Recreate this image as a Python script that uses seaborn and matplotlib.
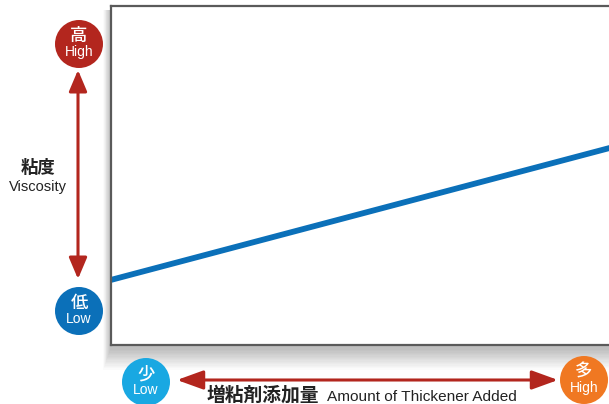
import matplotlib
matplotlib.use("Agg")
import matplotlib.pyplot as plt
from matplotlib.patches import Circle, Rectangle, FancyArrowPatch
import seaborn as sns
import pandas as pd

# ---- data ----
amount = [0, 10]            # thickener amount (relative)
viscosity = [19.2, 58.3]    # viscosity (relative)
y_title_ja = "粘度"
y_title_en = "Viscosity"
x_title_ja = "増粘剤添加量"
x_title_en = "Amount of Thickener Added"
high_ja, high_en = "高", "High"
low_ja, low_en = "低", "Low"
few_ja, few_en = "少", "Low"
many_ja, many_en = "多", "High"

sns.set_theme(style="white")
plt.rcParams['font.family'] = ['Noto Sans CJK JP', 'DejaVu Sans']
EN = ['Liberation Sans', 'DejaVu Sans']
JA = ['Noto Sans CJK JP', 'DejaVu Sans']

W, H = 609, 404
fig = plt.figure(figsize=(W / 100, H / 100), dpi=100)
fig.patch.set_facecolor("white")

# overlay in pixel coordinates
ov = fig.add_axes([0, 0, 1, 1], zorder=0)
ov.set_xlim(0, W)
ov.set_ylim(H, 0)
ov.axis("off")

# box geometry (pixels)
bx0, by0, bx1, by1 = 111, 6, 612, 345

# soft shadow (mostly below the box)
for i in range(16):
    ov.add_patch(Rectangle((bx0 - 1 - i * 0.45, by0 + 4), (bx1 - bx0) + 20,
                           (by1 - by0) + 1 + i * 1.3,
                           facecolor="black", edgecolor="none", alpha=0.015, zorder=1))

# main axes
ax = fig.add_axes([bx0 / W, 1 - by1 / H, (bx1 - bx0) / W, (by1 - by0) / H], zorder=2)
ax.set_facecolor("white")
df = pd.DataFrame({"amount": amount, "viscosity": viscosity})
sns.lineplot(data=df, x="amount", y="viscosity", ax=ax, color="#0b70b9", linewidth=4.2)
ax.set_xlim(0, 10)
ax.set_ylim(0, 100)
ax.set_xticks([])
ax.set_yticks([])
ax.set_xlabel("")
ax.set_ylabel("")
for side, sp in ax.spines.items():
    sp.set_color("#5a5a5a")
    sp.set_linewidth(1.6)
ax.spines["right"].set_visible(False)

RED = "#b3261e"

def badge(cx, cy, color, ja, en):
    ov.add_patch(Circle((cx, cy), 24, facecolor=color, edgecolor="none", zorder=3))
    ov.text(cx, cy - 8, ja, color="white", fontsize=12.5, fontweight="medium",
            ha="center", va="center", family=JA, zorder=4)
    ov.text(cx, cy + 8, en, color="white", fontsize=10, ha="center", va="center",
            family=EN, zorder=4)

badge(79, 44, "#b3261e", high_ja, high_en)
badge(79, 311, "#0b70b9", low_ja, low_en)
badge(146, 382, "#19a8e2", few_ja, few_en)
badge(584, 380, "#f07822", many_ja, many_en)

# arrows
ov.add_patch(FancyArrowPatch((78, 70), (78, 279),
                             arrowstyle="<|-|>,head_length=13,head_width=5.5",
                             mutation_scale=1, color=RED, lw=2.2,
                             shrinkA=0, shrinkB=0, zorder=3))
ov.add_patch(FancyArrowPatch((177, 380), (558, 380),
                             arrowstyle="<|-|>,head_length=16,head_width=5.8",
                             mutation_scale=1, color=RED, lw=2.2,
                             shrinkA=0, shrinkB=0, zorder=3))

# axis titles
ov.text(38, 168, y_title_ja, fontsize=12.5, fontweight="bold", ha="center",
        va="center", family=JA, color="#222222")
ov.text(38, 187, y_title_en, fontsize=10.5, ha="center", va="center",
        family=EN, color="#222222")
ov.text(207, 395, x_title_ja, fontsize=13.5, fontweight="bold", ha="left",
        va="center", family=JA, color="#222222")
ov.text(327, 397, x_title_en, fontsize=11.1, ha="left", va="center",
        family=EN, color="#222222")

fig.savefig("out.png", dpi=100)
